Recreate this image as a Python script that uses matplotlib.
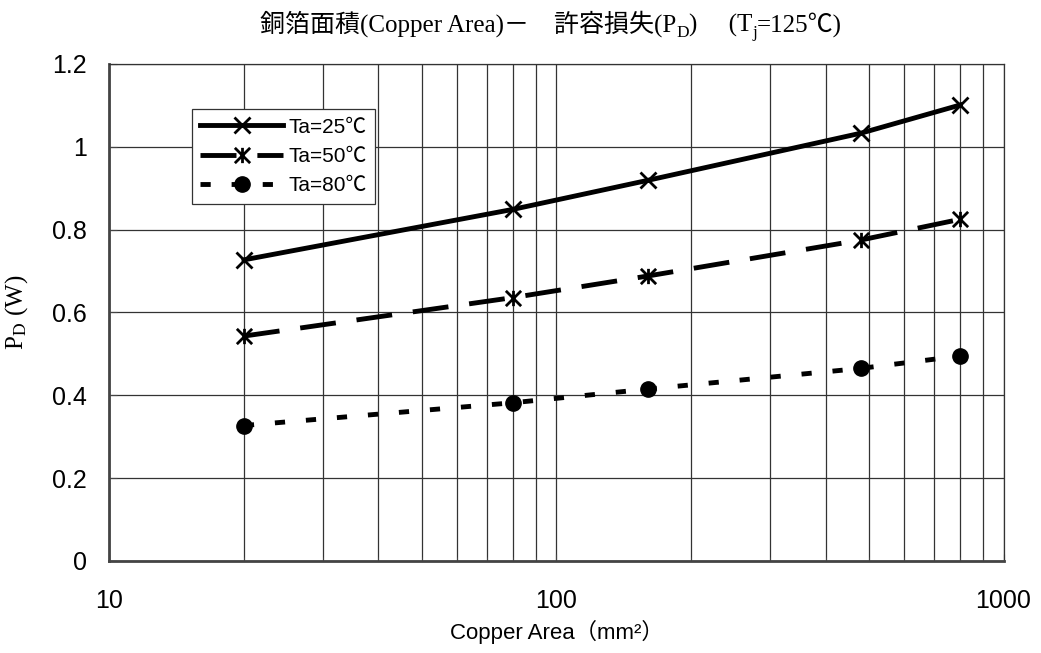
import matplotlib.pyplot as plt
from matplotlib.path import Path
from matplotlib.ticker import FixedLocator, NullFormatter

# data
area = [20, 80, 160, 480, 800]
pd_25 = [0.727, 0.849, 0.919, 1.033, 1.101]
pd_50 = [0.543, 0.636, 0.688, 0.775, 0.825]
pd_80 = [0.327, 0.382, 0.415, 0.465, 0.495]
labels = ['Ta=25℃', 'Ta=50℃', 'Ta=80℃']
x_ticks = [10, 100, 1000]
y_ticks = [0, 0.2, 0.4, 0.6, 0.8, 1.0, 1.2]
y_ticklabels = ['0', '0.2', '0.4', '0.6', '0.8', '1', '1.2']

sans = ['Liberation Sans', 'Noto Sans CJK JP', 'DejaVu Sans']
serif = ['Liberation Serif', 'Noto Sans CJK JP', 'DejaVu Serif']
plt.rcParams['font.family'] = sans
plt.rcParams['mathtext.fontset'] = 'stix'

# Excel style asterisk: x plus a vertical bar
star = Path([(0, -1), (0, 1), (-1, -1), (1, 1), (-1, 1), (1, -1)],
            [Path.MOVETO, Path.LINETO, Path.MOVETO, Path.LINETO, Path.MOVETO, Path.LINETO])

fig = plt.figure(figsize=(10.41, 6.53), dpi=100)
ax = fig.add_axes([0.105, 0.141, 0.859, 0.761])

ax.plot(area, pd_25, color='black', lw=3.5, marker='x', ms=11, mew=2, label=labels[0])
ax.plot(area, pd_50, color='black', lw=3.5, dashes=(7.4, 4.3), marker=star, ms=11, mew=2,
        label=labels[1])
ax.plot(area, pd_80, color='black', lw=3.5, dashes=(2.1, 4.3), marker='o', ms=11, label=labels[2])

ax.set_xscale('log')
ax.set_xlim(10, 1000)
ax.set_ylim(0, 1.2)
ax.xaxis.set_major_locator(FixedLocator(x_ticks))
ax.xaxis.set_major_formatter(plt.FixedFormatter(['10', '100', '1000']))
ax.xaxis.set_minor_locator(FixedLocator([m * d for d in (10, 100) for m in range(2, 10)]))
ax.xaxis.set_minor_formatter(NullFormatter())
ax.set_yticks(y_ticks)
ax.set_yticklabels(y_ticklabels)

ax.grid(True, which='both', axis='x', color='#333333', lw=0.9)
ax.grid(True, which='major', axis='y', color='#333333', lw=0.9)
ax.set_axisbelow(True)
for side in ('top', 'right'):
    ax.spines[side].set_color('#333333')
    ax.spines[side].set_linewidth(0.9)
for side in ('left', 'bottom'):
    ax.spines[side].set_color('#444444')
    ax.spines[side].set_linewidth(2)

ax.tick_params(axis='both', which='both', direction='in', labelsize=18, color='#444444')
ax.tick_params(axis='x', which='major', pad=20, length=5)
ax.tick_params(axis='x', which='minor', length=3)
ax.tick_params(axis='y', length=6, pad=16)

ax.set_xlabel('Copper Area（mm²）', fontsize=16, labelpad=5)
ax.set_ylabel('P$_\\mathrm{D}$ (W)', fontsize=18, family=serif, labelpad=16)

# title: mixed Japanese / Latin with subscripts, laid out piece by piece
title_parts = [('銅箔面積(Copper Area)－　許容損失(P', 0), ('D', 1), (')     (T', 0),
               ('j', 1), ('=125℃)', 0)]
renderer = fig.canvas.get_renderer()
pieces = []
for s, sub in title_parts:
    t = fig.text(0, 0.951 - (0.007 if sub else 0), s, fontsize=12.5 if sub else 18,
                 family=serif, va='baseline', ha='left')
    pieces.append(t)
widths = [t.get_window_extent(renderer).width for t in pieces]
x0 = 551 - sum(widths) / 2
for t, w in zip(pieces, widths):
    t.set_x(x0 / fig.bbox.width)
    x0 += w

leg = ax.legend(loc='upper left', bbox_to_anchor=(0.092, 0.909), fontsize=15,
                handlelength=4.0, handletextpad=0.25, borderpad=0.4, labelspacing=0.5,
                fancybox=False, framealpha=1, edgecolor='#333333', borderaxespad=0)
leg.get_frame().set_linewidth(0.9)

fig.savefig('out.png', dpi=100)
